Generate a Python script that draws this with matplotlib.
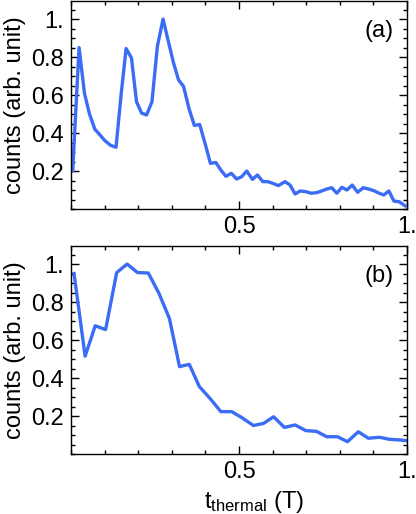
import numpy as np
import matplotlib
matplotlib.use("Agg")
import matplotlib.pyplot as plt
from matplotlib.ticker import MultipleLocator, FixedLocator

plt.rcParams['font.family'] = ['Liberation Sans', 'DejaVu Sans']
plt.rcParams['mathtext.fontset'] = 'custom'
plt.rcParams['mathtext.rm'] = 'Liberation Sans'
plt.rcParams['mathtext.it'] = 'Liberation Sans'

# panel (a)
x_a = [0.005, 0.024, 0.040, 0.055, 0.071, 0.086, 0.101, 0.118, 0.134, 0.149,
       0.164, 0.180, 0.195, 0.210, 0.225, 0.241, 0.257, 0.274, 0.290, 0.305,
       0.320, 0.335, 0.351, 0.367, 0.383, 0.399, 0.415, 0.431, 0.446, 0.461,
       0.477, 0.493, 0.508, 0.523, 0.540, 0.555, 0.571, 0.586, 0.601, 0.617,
       0.637, 0.652, 0.667, 0.682, 0.699, 0.715, 0.731, 0.746, 0.761, 0.776,
       0.791, 0.806, 0.821, 0.837, 0.853, 0.870, 0.886, 0.902, 0.917, 0.931,
       0.946, 0.961, 0.977, 0.994]
y_a = [0.20, 0.85, 0.61, 0.50, 0.42, 0.39, 0.36, 0.335, 0.325, 0.60,
       0.845, 0.795, 0.565, 0.505, 0.495, 0.565, 0.855, 1.0, 0.88, 0.77,
       0.68, 0.645, 0.53, 0.44, 0.445, 0.345, 0.24, 0.245, 0.205, 0.172,
       0.188, 0.158, 0.17, 0.20, 0.156, 0.179, 0.144, 0.144, 0.135, 0.123,
       0.144, 0.126, 0.079, 0.095, 0.091, 0.083, 0.086, 0.095, 0.105, 0.112,
       0.083, 0.114, 0.100, 0.126, 0.088, 0.112, 0.105, 0.096, 0.083, 0.074,
       0.095, 0.042, 0.038, 0.017]

# panel (b)
x_b = [0.009, 0.042, 0.072, 0.103, 0.136, 0.167, 0.198, 0.230, 0.262, 0.293,
       0.323, 0.352, 0.382, 0.414, 0.446, 0.478, 0.508, 0.543, 0.573, 0.603,
       0.635, 0.667, 0.699, 0.731, 0.761, 0.793, 0.823, 0.855, 0.885, 0.918,
       0.949, 0.979, 0.999]
y_b = [0.95, 0.515, 0.675, 0.655, 0.955, 1.0, 0.955, 0.953, 0.845, 0.713,
       0.46, 0.472, 0.355, 0.292, 0.223, 0.223, 0.192, 0.150, 0.161, 0.196,
       0.140, 0.153, 0.123, 0.119, 0.091, 0.091, 0.065, 0.117, 0.083, 0.088,
       0.077, 0.074, 0.070]

xticks = [0.5, 1.0]
xticklabels = ['0.5', '1.']
yticks = [0.2, 0.4, 0.6, 0.8, 1.0]
yticklabels = ['0.2', '0.4', '0.6', '0.8', '1.']

W, H = 416, 514
fig = plt.figure(figsize=(W / 100, H / 100), dpi=100)
ax1 = fig.add_axes([71 / W, (H - 209) / H, 336 / W, 208 / H])
ax2 = fig.add_axes([71 / W, (H - 454) / H, 336 / W, 208 / H])

line_color = '#3a6cf6'
fs = 17

for ax, xs, ys, tag in [(ax1, x_a, y_a, '(a)'), (ax2, x_b, y_b, '(b)')]:
    ax.plot(xs, ys, color=line_color, lw=2.4)
    ax.set_xlim(0, 1.0)
    ax.set_ylim(0, 1.095)
    ax.xaxis.set_major_locator(FixedLocator(xticks))
    ax.set_xticklabels(xticklabels)
    ax.xaxis.set_minor_locator(MultipleLocator(0.1))
    ax.yaxis.set_major_locator(FixedLocator(yticks))
    ax.set_yticklabels(yticklabels)
    ax.yaxis.set_minor_locator(MultipleLocator(0.05))
    ax.tick_params(which='both', direction='in', top=True, right=True,
                   labelsize=fs, width=1)
    ax.tick_params(which='major', length=6, pad=5)
    ax.tick_params(which='minor', length=3)
    for s in ax.spines.values():
        s.set_linewidth(1)
    ax.set_ylabel('counts (arb. unit)', fontsize=fs, labelpad=4)
    ax.text(0.96, 0.855, tag, transform=ax.transAxes, ha='right', va='center',
            fontsize=fs)

ax2.set_xlabel(r'$\mathrm{t}_{\mathrm{thermal}}$ (T)', fontsize=fs)
ax2.xaxis.set_label_coords(0.545, -0.17)

fig.savefig('out.png', dpi=100)
